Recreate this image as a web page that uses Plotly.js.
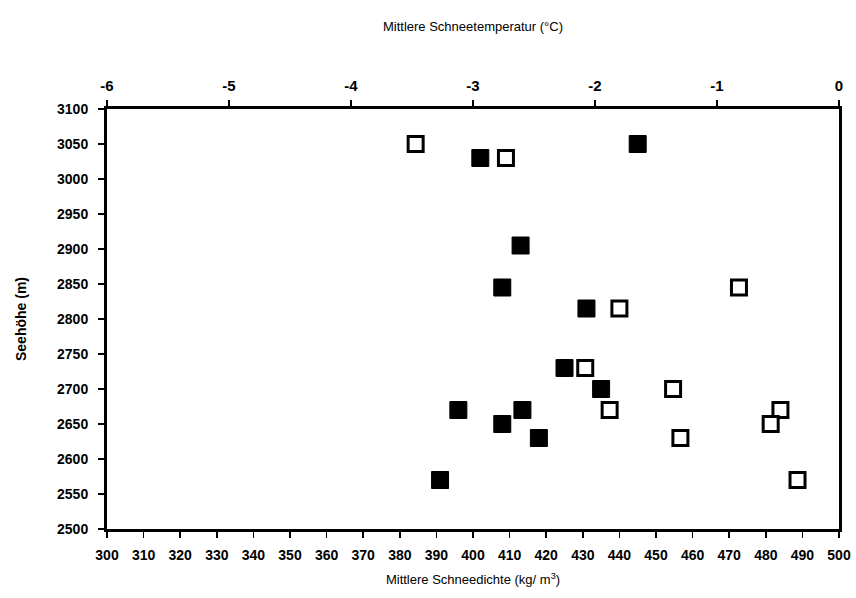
<!DOCTYPE html>
<html>
<head>
<meta charset="utf-8">
<script src="https://cdn.plot.ly/plotly-3.0.1.min.js"></script>
<style>html,body{margin:0;padding:0;background:#fff;}#chart{width:856px;height:598px;}</style>
</head>
<body>
<div id="chart"></div>
<script>
// Filled squares: mean snow density (bottom axis)
var densityValues = [402, 445, 413, 408, 431, 425, 435, 396, 413.5, 408, 418, 391];
var densityElevation = [3030, 3050, 2905, 2845, 2815, 2730, 2700, 2670, 2670, 2650, 2630, 2570];
// Open squares: mean snow temperature (top axis)
var tempValues = [-3.47, -2.73, -0.82, -1.80, -2.08, -1.36, -1.88, -0.48, -0.56, -1.30, -0.34];
var tempElevation = [3050, 3030, 2845, 2815, 2730, 2700, 2670, 2670, 2650, 2630, 2570];

var densityTicks = [300,310,320,330,340,350,360,370,380,390,400,410,420,430,440,450,460,470,480,490,500];
var tempTicks = [-6,-5,-4,-3,-2,-1,0];
var elevTicks = [2500,2550,2600,2650,2700,2750,2800,2850,2900,2950,3000,3050,3100];

var font = "Liberation Sans, Arial, sans-serif";

var traces = [
  {
    x: densityValues, y: densityElevation, type: 'scatter', mode: 'markers',
    xaxis: 'x', yaxis: 'y', name: 'Schneedichte',
    marker: {symbol: 'square', size: 17, color: '#000', line: {color: '#000', width: 1}}
  },
  {
    x: tempValues, y: tempElevation, type: 'scatter', mode: 'markers',
    xaxis: 'x2', yaxis: 'y', name: 'Schneetemperatur',
    marker: {symbol: 'square', size: 15, color: '#fff', line: {color: '#000', width: 3}}
  }
];

var layout = {
  width: 856, height: 598,
  margin: {l: 107, r: 17, t: 109, b: 69, pad: 0},
  paper_bgcolor: '#fff', plot_bgcolor: '#fff',
  showlegend: false,
  font: {family: font, color: '#000'},
  xaxis: {
    range: [300, 500], tickvals: densityTicks, ticktext: densityTicks.map(String),
    showgrid: false, zeroline: false, showline: true, linecolor: '#000', linewidth: 3,
    ticks: 'outside', ticklen: 6, tickwidth: 1.5, tickcolor: '#000', ticklabelstandoff: 5,
    tickfont: {family: font, size: 14, color: '#000', weight: 'bold'},
    title: {text: 'Mittlere Schneedichte (kg/ m<sup>3</sup>)', font: {family: font, size: 13, color: '#000'}, standoff: 14}
  },
  xaxis2: {
    range: [-6, 0], tickvals: tempTicks, ticktext: tempTicks.map(String),
    overlaying: 'x', side: 'top', anchor: 'y',
    showgrid: false, zeroline: false, showline: true, linecolor: '#000', linewidth: 3,
    ticks: 'outside', ticklen: 6, tickwidth: 1.5, tickcolor: '#000', ticklabelstandoff: 3,
    tickfont: {family: font, size: 15, color: '#000', weight: 'bold'},
    title: {text: 'Mittlere Schneetemperatur (°C)', font: {family: font, size: 13, color: '#000'}, standoff: 43}
  },
  yaxis: {
    range: [2500, 3100], tickvals: elevTicks, ticktext: elevTicks.map(String),
    showgrid: false, zeroline: false, showline: true, mirror: true, linecolor: '#000', linewidth: 3,
    ticks: 'outside', ticklen: 6, tickwidth: 1.5, tickcolor: '#000', ticklabelstandoff: 7,
    tickfont: {family: font, size: 14, color: '#000', weight: 'bold'},
    title: {text: 'Seehöhe (m)', font: {family: font, size: 14, color: '#000', weight: 'bold'}, standoff: 28}
  }
};

Plotly.newPlot('chart', traces, layout, {displayModeBar: false, staticPlot: true});
</script>
</body>
</html>
